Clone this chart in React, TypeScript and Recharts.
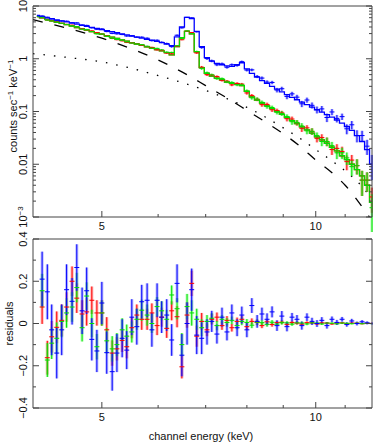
import { ComposedChart, ErrorBar, Line, Scatter, XAxis, YAxis } from "recharts";

// channel energy bin centres (keV)
const energy = [
  4.05, 4.12, 4.19, 4.25, 4.32, 4.39, 4.46, 4.54, 4.61, 4.69,
  4.76, 4.84, 4.92, 5.0, 5.08, 5.17, 5.25, 5.34, 5.42, 5.51,
  5.6, 5.69, 5.79, 5.88, 5.98, 6.07, 6.17, 6.27, 6.38, 6.48,
  6.59, 6.69, 6.8, 6.91, 7.03, 7.14, 7.26, 7.38, 7.5, 7.62,
  7.75, 7.87, 8.0, 8.13, 8.27, 8.4, 8.54, 8.68, 8.82, 8.96,
  9.11, 9.26, 9.41, 9.56, 9.72, 9.88, 10.04, 10.2, 10.37, 10.54,
  10.71, 10.89, 11.06, 11.24, 11.43, 11.62, 11.81, 12.0,
];

// folded model, counts sec^-1 keV^-1
const blueModel = [
  6.6, 6.27, 5.97, 5.73, 5.47, 5.22, 4.99, 4.73, 4.53, 4.31,
  4.13, 3.93, 3.75, 3.58, 3.42, 3.25, 3.11, 2.96, 2.83, 2.7,
  2.58, 2.46, 2.34, 2.24, 2.13, 2.02, 1.9, 1.78, 2.6, 4.0,
  6.1, 5.8, 3.3, 1.7, 1.05, 0.9, 0.82, 0.77, 0.73, 0.72,
  0.77, 0.84, 0.64, 0.53, 0.45, 0.385, 0.34, 0.3, 0.265, 0.235,
  0.208, 0.186, 0.167, 0.15, 0.135, 0.121, 0.108, 0.097, 0.087, 0.078,
  0.069, 0.06, 0.052, 0.044, 0.035, 0.027, 0.019, 0.01,
];
const frontModel = [
  6.3, 5.93, 5.57, 5.28, 4.97, 4.69, 4.42, 4.14, 3.91, 3.67,
  3.47, 3.27, 3.07, 2.9, 2.73, 2.56, 2.42, 2.27, 2.15, 2.02,
  1.9, 1.79, 1.68, 1.59, 1.49, 1.41, 1.31, 1.18, 1.7, 2.5,
  3.3, 2.95, 1.35, 0.68, 0.53, 0.47, 0.43, 0.4, 0.36, 0.34,
  0.33, 0.31, 0.24, 0.19, 0.165, 0.145, 0.128, 0.113, 0.1, 0.088,
  0.077, 0.067, 0.059, 0.051, 0.045, 0.039, 0.033, 0.029, 0.025, 0.021,
  0.018, 0.0145, 0.0122, 0.01, 0.0079, 0.006, 0.004, 0.0019,
];

// residuals (data - model) and 1-sigma errors
const blueResid = [
  null, 0.21, 0.15, -0.03, -0.14, -0.03, 0.16, 0.105, 0.265, 0.06,
  0.155, -0.075, -0.13, 0.097, -0.138, -0.228, -0.14, -0.07, -0.126, 0.03,
  -0.015, 0.103, 0.11, -0.03, 0.11, 0.03, 0.04, -0.078, 0.19, -0.15,
  0.0, 0.16, -0.055, -0.07, -0.04, 0.01, -0.05, 0.03, -0.04, 0.05,
  -0.02, 0.04, -0.03, 0.085, 0.01, 0.045, 0.02, 0.055, -0.01, 0.035,
  -0.015, 0.03, 0.02, -0.01, 0.03, 0.01, 0.0, 0.015, -0.01, 0.02,
  0.005, 0.02, -0.005, 0.012, 0.0, 0.008, 0.003, 0.0,
];
const redResid = [
  null, 0.078, -0.162, -0.063, -0.018, 0.015, 0.078, 0.2, 0.12, 0.045,
  0.055, 0.11, 0.05, 0.05, -0.03, -0.14, -0.12, -0.08, -0.11, -0.02,
  0.04, 0.02, 0.02, 0.05, -0.01, 0.03, -0.023, 0.06, 0.032, -0.205,
  0.04, 0.19, -0.06, 0.01, -0.03, 0.02, 0.03, -0.01, 0.015, -0.02,
  0.01, 0.02, -0.015, 0.01, 0.005, -0.01, 0.008, -0.005, 0.004, 0.006,
  -0.004, 0.005, 0.002, -0.003, 0.004, 0.003, -0.002, 0.003, 0.002, -0.002,
  0.002, 0.003, -0.001, 0.002, 0.0015, -0.001, 0.001, 0.0005,
];
const greenResid = [
  null, 0.155, -0.173, -0.093, -0.07, 0.01, 0.05, 0.078, 0.17, -0.02,
  0.13, 0.0, -0.11, 0.05, -0.082, -0.12, -0.1, -0.03, -0.06, -0.04,
  0.02, 0.063, 0.04, 0.0, 0.08, 0.06, 0.02, 0.135, 0.07, -0.1,
  0.08, 0.05, 0.02, -0.02, 0.01, 0.025, -0.01, 0.02, 0.005, 0.015,
  -0.01, 0.01, 0.005, -0.008, 0.006, 0.004, -0.004, 0.006, -0.003, 0.004,
  0.003, -0.003, 0.003, 0.002, -0.002, 0.003, 0.002, -0.002, 0.002, 0.0015,
  -0.0015, 0.002, 0.001, -0.001, 0.0015, -0.001, 0.001, -0.0004,
];
const blueErr = [
  null, 0.13, 0.13, 0.12, 0.12, 0.12, 0.12, 0.11, 0.11, 0.11,
  0.11, 0.1, 0.1, 0.1, 0.1, 0.09, 0.09, 0.09, 0.09, 0.085,
  0.085, 0.08, 0.08, 0.08, 0.08, 0.075, 0.075, 0.075, 0.09, 0.1,
  0.1, 0.1, 0.09, 0.075, 0.06, 0.05, 0.045, 0.045, 0.04, 0.04,
  0.04, 0.04, 0.035, 0.035, 0.03, 0.03, 0.028, 0.026, 0.025, 0.024,
  0.022, 0.02, 0.02, 0.019, 0.018, 0.017, 0.016, 0.015, 0.014, 0.013,
  0.012, 0.011, 0.01, 0.01, 0.009, 0.008, 0.007, 0.005,
];
const frontErr = [
  null, 0.08, 0.08, 0.075, 0.075, 0.075, 0.07, 0.07, 0.07, 0.065,
  0.065, 0.065, 0.06, 0.06, 0.06, 0.06, 0.055, 0.055, 0.055, 0.05,
  0.05, 0.05, 0.05, 0.045, 0.045, 0.045, 0.045, 0.045, 0.05, 0.055,
  0.06, 0.06, 0.05, 0.04, 0.03, 0.025, 0.022, 0.02, 0.02, 0.018,
  0.018, 0.018, 0.016, 0.014, 0.013, 0.012, 0.011, 0.01, 0.009, 0.009,
  0.008, 0.008, 0.007, 0.007, 0.006, 0.006, 0.005, 0.005, 0.005, 0.004,
  0.004, 0.004, 0.0035, 0.003, 0.003, 0.0025, 0.002, 0.0012,
];

// model components
const compEnergy = [4, 4.5, 5, 5.5, 6, 6.5, 7, 7.5, 8, 8.5, 9, 9.5, 10, 10.5, 11, 11.5, 12];
const dashedComp = [5.5, 3.7, 2.45, 1.55, 0.95, 0.55, 0.31, 0.18, 0.105, 0.063, 0.038, 0.022, 0.012, 0.0072, 0.004, 0.0019, 0.00085];
const dottedComp = [1.25, 1.05, 0.87, 0.66, 0.48, 0.35, 0.25, 0.175, 0.12, 0.078, 0.049, 0.031, 0.019, 0.012, 0.0075, 0.0044, 0.0022];

// axis ticks
const xTicks = [5, 6, 7, 8, 9, 10, 11];
const xMajor = [5, 10];
const xLabels = ["5", "10"];
const countDecades = [0.001, 0.01, 0.1, 1, 10];
const countLabels = ["10^-3", "0.01", "0.1", "1", "10"];
const countTicks = [
  ...[0.001, 0.01, 0.1, 1].flatMap((d) => [1, 2, 3, 4, 5, 6, 7, 8, 9].map((m) => m * d)),
  10,
];
const residMajor = [-0.4, -0.2, 0, 0.2, 0.4];
const residLabels = ["\u22120.4", "\u22120.2", "0", "0.2", "0.4"];
const residTicks = [-0.4, -0.3, -0.2, -0.1, 0, 0.1, 0.2, 0.3, 0.4];

const FONT = "'Liberation Sans', Arial, Helvetica, sans-serif";
const AXIS = "#444";
const BLUE = "#0000ff";
const RED = "#ff0000";
const GREEN = "#00e000";

const line = (xs: number[], ys: (number | null)[]) =>
  xs.map((x, i) => ({ x, y: ys[i] }));

const points = (model: number[] | null, resid: (number | null)[], err: (number | null)[]) =>
  energy
    .map((x, i) => ({
      x,
      y: resid[i] == null ? null : (model ? model[i] : 0) + (resid[i] as number),
      err: err[i],
    }))
    .filter((p) => p.y != null);

type Side = "bottom" | "top" | "left" | "right";

function makeTick(side: Side, majors: number[], labels?: string[]) {
  return function TickMark(props: any) {
    const { x, y, payload } = props;
    const v = Number(payload.value);
    const idx = majors.findIndex((m) => m === v || Math.abs(m - v) <= 1e-9 * Math.abs(m));
    const len = idx >= 0 ? 6 : 3;
    let mark;
    if (side === "bottom") mark = <line x1={x} y1={y} x2={x} y2={y - len} />;
    else if (side === "top") mark = <line x1={x} y1={y} x2={x} y2={y + len} />;
    else if (side === "left") mark = <line x1={x} y1={y} x2={x + len} y2={y} />;
    else mark = <line x1={x} y1={y} x2={x - len} y2={y} />;
    let text = null;
    if (labels && idx >= 0) {
      const lab = labels[idx];
      if (side === "bottom") {
        text = (
          <text x={x} y={y + 13} textAnchor="middle" fontSize={11} fontFamily={FONT} fill="#111" stroke="none">
            {lab}
          </text>
        );
      } else if (side === "left") {
        const sup = lab.startsWith("10^");
        text = (
          <text
            transform={`translate(${x - 6},${y}) rotate(-90)`}
            textAnchor="middle"
            fontSize={11}
            fontFamily={FONT}
            fill="#111"
            stroke="none"
          >
            {sup ? "10" : lab}
            {sup && (
              <tspan dy={-4} fontSize={8}>
                {lab.slice(3).replace("-", "\u2212")}
              </tspan>
            )}
          </text>
        );
      }
    }
    return (
      <g stroke={AXIS} strokeWidth={1}>
        {mark}
        {text}
      </g>
    );
  };
}

const crossShape = (color: string) =>
  function Cross(props: any) {
    const { cx, cy } = props;
    if (!Number.isFinite(cx) || !Number.isFinite(cy)) return <g />;
    return <line x1={cx - 2.5} x2={cx + 2.5} y1={cy} y2={cy} stroke={color} strokeWidth={1} />;
  };

function DataSeries(data: any[], color: string, light: string, key: string) {
  return (
    <Scatter
      key={key}
      data={data}
      xAxisId="b"
      yAxisId="l"
      shape={crossShape(color)}
      isAnimationActive={false}
    >
      <ErrorBar dataKey="err" direction="y" width={0} stroke={light} strokeWidth={3} />
      <ErrorBar dataKey="err" direction="y" width={0} stroke={color} strokeWidth={1} />
    </Scatter>
  );
}

function Frame(props: {
  yDomain: [number, number];
  yScale: "log" | "linear";
  yTicks: number[];
  yMajor: number[];
  yLabels: string[];
  bottomHeight: number;
}) {
  return [
    <XAxis
      key="xb"
      xAxisId="b"
      dataKey="x"
      type="number"
      scale="log"
      domain={[4, 12]}
      allowDataOverflow
      ticks={xTicks}
      interval={0}
      tickSize={0}
      tickMargin={0}
      height={props.bottomHeight}
      axisLine={{ stroke: AXIS }}
      tick={makeTick("bottom", xMajor, xLabels)}
    />,
    <XAxis
      key="xt"
      xAxisId="t"
      orientation="top"
      type="number"
      scale="log"
      domain={[4, 12]}
      allowDataOverflow
      ticks={xTicks}
      interval={0}
      tickSize={0}
      tickMargin={0}
      height={1}
      axisLine={{ stroke: AXIS }}
      tick={makeTick("top", xMajor)}
    />,
    <YAxis
      key="yl"
      yAxisId="l"
      dataKey="y"
      type="number"
      scale={props.yScale}
      domain={props.yDomain}
      allowDataOverflow
      ticks={props.yTicks}
      interval={0}
      tickSize={0}
      tickMargin={0}
      width={33}
      axisLine={{ stroke: AXIS }}
      tick={makeTick("left", props.yMajor, props.yLabels)}
    />,
    <YAxis
      key="yr"
      yAxisId="r"
      orientation="right"
      type="number"
      scale={props.yScale}
      domain={props.yDomain}
      allowDataOverflow
      ticks={props.yTicks}
      interval={0}
      tickSize={0}
      tickMargin={0}
      width={1}
      axisLine={{ stroke: AXIS }}
      tick={makeTick("right", props.yMajor)}
    />,
  ];
}

export default function App() {
  const blueLine = line(energy, blueModel);
  const frontLine = line(energy, frontModel);
  const dashedLine = line(compEnergy, dashedComp);
  const dottedLine = line(compEnergy, dottedComp);

  return (
    <div style={{ position: "absolute", left: 0, top: 0, width: 373, height: 444, background: "#fff" }}>
      <div style={{ position: "absolute", left: 0, top: 0 }}>
        <ComposedChart width={373} height={232} margin={{ top: 5, right: 0, bottom: 0, left: 0 }}>
          {Frame({
            yDomain: [0.001, 10],
            yScale: "log",
            yTicks: countTicks,
            yMajor: countDecades,
            yLabels: countLabels,
            bottomHeight: 15,
          })}
          <Line data={dottedLine} xAxisId="b" yAxisId="l" dataKey="y" type="monotone" stroke="#000" strokeWidth={1.3} strokeDasharray="1.5 9" dot={false} activeDot={false} isAnimationActive={false} />
          <Line data={dashedLine} xAxisId="b" yAxisId="l" dataKey="y" type="monotone" stroke="#000" strokeWidth={1.3} strokeDasharray="10 12" dot={false} activeDot={false} isAnimationActive={false} />
          {DataSeries(points(frontModel, redResid, frontErr), RED, "rgba(255,60,60,0.4)", "r")}
          {DataSeries(points(frontModel, greenResid, frontErr), GREEN, "rgba(60,255,60,0.4)", "g")}
          {DataSeries(points(blueModel, blueResid, blueErr), BLUE, "rgba(80,80,255,0.4)", "b")}
          <Line data={frontLine} xAxisId="b" yAxisId="l" dataKey="y" type="step" stroke={RED} strokeWidth={1.3} dot={false} activeDot={false} isAnimationActive={false} />
          <Line data={frontLine} xAxisId="b" yAxisId="l" dataKey="y" type="step" stroke={GREEN} strokeWidth={1.3} dot={false} activeDot={false} isAnimationActive={false} />
          <Line data={blueLine} xAxisId="b" yAxisId="l" dataKey="y" type="step" stroke={BLUE} strokeWidth={1.3} dot={false} activeDot={false} isAnimationActive={false} />
        </ComposedChart>
      </div>
      <div style={{ position: "absolute", left: 0, top: 230 }}>
        <ComposedChart width={373} height={214} margin={{ top: 8, right: 0, bottom: 0, left: 0 }}>
          {Frame({
            yDomain: [-0.4, 0.4],
            yScale: "linear",
            yTicks: residTicks,
            yMajor: residMajor,
            yLabels: residLabels,
            bottomHeight: 36,
          })}
          {DataSeries(points(null, redResid, frontErr), RED, "rgba(255,60,60,0.4)", "r")}
          {DataSeries(points(null, greenResid, frontErr), GREEN, "rgba(60,255,60,0.4)", "g")}
          {DataSeries(points(null, blueResid, blueErr), BLUE, "rgba(80,80,255,0.4)", "b")}
        </ComposedChart>
      </div>
      <svg width={373} height={444} style={{ position: "absolute", left: 0, top: 0, pointerEvents: "none" }}>
        <text transform="translate(17,106) rotate(-90)" textAnchor="middle" fontSize={11} fontFamily={FONT} fill="#111">
          counts sec
          <tspan dy={-4} fontSize={8}>{"\u22121"}</tspan>
          <tspan dy={4}>{"  keV"}</tspan>
          <tspan dy={-4} fontSize={8}>{"\u22121"}</tspan>
        </text>
        <text transform="translate(13,323.5) rotate(-90)" textAnchor="middle" fontSize={11} fontFamily={FONT} fill="#111">
          residuals
        </text>
        <text x={201} y={440} textAnchor="middle" fontSize={11} fontFamily={FONT} fill="#111">
          channel energy (keV)
        </text>
      </svg>
    </div>
  );
}
